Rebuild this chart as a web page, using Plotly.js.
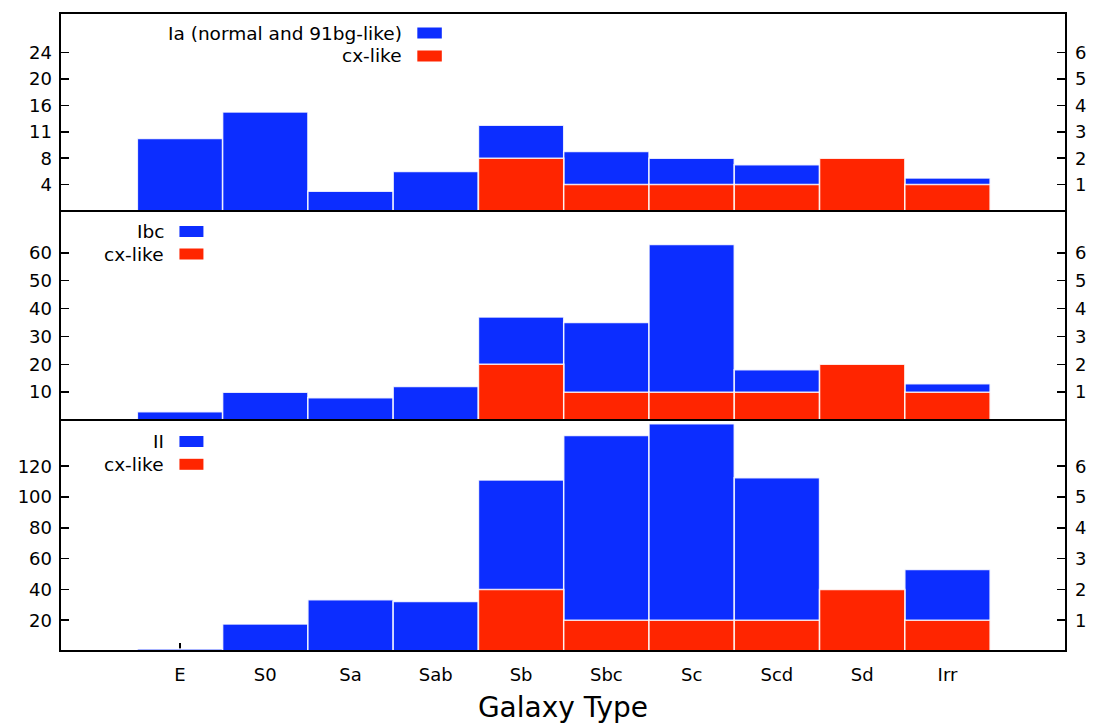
<!DOCTYPE html>
<html>
<head>
<meta charset="utf-8">
<script src="https://cdn.plot.ly/plotly-3.0.1.min.js"></script>
<style>html,body{margin:0;padding:0;background:#fff;}#chart{width:1093px;height:724px;}</style>
</head>
<body>
<div id="chart"></div>
<script>
// ---- data ----
const galaxyTypes = ["E", "S0", "Sa", "Sab", "Sb", "Sbc", "Sc", "Scd", "Sd", "Irr"];
const iaValues   = [11, 15, 3, 6, 13, 9, 8, 7, 0, 5];
const ibcValues  = [3, 10, 8, 12, 37, 35, 63, 18, 0, 13];
const iiValues   = [1.3, 17.6, 33.3, 32.2, 111, 140, 147.5, 112.5, 0, 53];
// cx-like counts (right-hand axes)
const iaCx  = [0, 0, 0, 0, 2, 1, 1, 1, 2, 1];
const ibcCx = [0, 0, 0, 0, 2, 1, 1, 1, 2, 1];
const iiCx  = [0, 0, 0, 0, 2, 1, 1, 1, 2, 1];

const iaTickVals = [4, 8, 12, 16, 20, 24];
const iaTickText = ["4", "8", "11", "16", "20", "24"];
const ibcTickVals = [10, 20, 30, 40, 50, 60];
const iiTickVals = [20, 40, 60, 80, 100, 120];
const cxTickVals = [1, 2, 3, 4, 5, 6];

const legendLabels = [
  ["Ia (normal and 91bg-like)", "cx-like"],
  ["Ibc", "cx-like"],
  ["II", "cx-like"]
];

// ---- style / geometry ----
const BLUE = "#0c2dff", RED = "#ff2500";
const W = 1093, H = 724;
const L = 60, R = 1066.5, T = 13, B = 651;
const pw = R - L, ph = B - T;
const px = v => (v - L) / pw;
const py = v => (B - v) / ph;
const panelPx = [[13, 211], [211, 420], [420, 651]];
const doms = panelPx.map(p => [py(p[1]), py(p[0])]);
const FONT = "DejaVu Sans, Liberation Sans, Arial, sans-serif";

function barTrace(y, color, xa, ya) {
  return {
    type: "bar", x: galaxyTypes, y: y, xaxis: xa, yaxis: ya,
    width: 1, marker: {color: color, line: {color: "rgba(255,255,255,0.85)", width: 1.5}},
    hoverinfo: "x+y", showlegend: false
  };
}

const data = [
  barTrace(iaValues, BLUE, "x", "y"),
  barTrace(ibcValues, BLUE, "x", "y2"),
  barTrace(iiValues, BLUE, "x", "y3"),
  barTrace(iaCx, RED, "x", "y4"),
  barTrace(ibcCx, RED, "x", "y5"),
  barTrace(iiCx, RED, "x", "y6")
];

const tickFont = {family: FONT, size: 18, color: "#000"};
function leftAxis(dom, range, vals, text) {
  const a = {domain: dom, range: range, tickmode: "array", tickvals: vals,
    ticks: "inside", ticklen: 9, tickwidth: 1.5, tickcolor: "#000", ticklabelstandoff: 7,
    showgrid: false, zeroline: false, showline: false, tickfont: tickFont,
    fixedrange: true, anchor: "x"};
  if (text) a.ticktext = text;
  return a;
}
function rightAxis(over) {
  return {overlaying: over, side: "right", range: [0, 7.5], tickmode: "array", tickvals: cxTickVals,
    ticks: "inside", ticklen: 9, tickwidth: 1.5, tickcolor: "#000", ticklabelstandoff: 8,
    showgrid: false, zeroline: false, showline: false, tickfont: tickFont,
    fixedrange: true, anchor: "x"};
}

const shapes = [];
const annotations = [];
panelPx.forEach((p, i) => {
  shapes.push({type: "rect", xref: "paper", yref: "paper", x0: 0, x1: 1, y0: py(p[1]), y1: py(p[0]),
    line: {color: "#000", width: 2}, fillcolor: "rgba(0,0,0,0)", layer: "above"});
});
// manual gnuplot-style legends (text right-aligned, swatch on the right)
const legendPos = [
  {textRight: 404, sw0: 417.5, sw1: 442, ys: [33, 56]},
  {textRight: 166, sw0: 179.5, sw1: 203.5, ys: [231.5, 254]},
  {textRight: 166, sw0: 179.5, sw1: 203.5, ys: [441.5, 464.3]}
];
legendPos.forEach((lp, i) => {
  [BLUE, RED].forEach((c, j) => {
    annotations.push({xref: "paper", yref: "paper", x: px(lp.textRight), y: py(lp.ys[j]),
      xanchor: "right", yanchor: "middle", showarrow: false, text: legendLabels[i][j],
      font: {family: FONT, size: 18.5, color: "#000"}});
    shapes.push({type: "rect", xref: "paper", yref: "paper", x0: px(lp.sw0), x1: px(lp.sw1),
      y0: py(lp.ys[j] + 5.5), y1: py(lp.ys[j] - 5.5), line: {width: 0}, fillcolor: c, layer: "above"});
  });
});

const layout = {
  width: W, height: H,
  margin: {l: L, r: W - R, t: T, b: H - B, pad: 0},
  paper_bgcolor: "#fff", plot_bgcolor: "rgba(0,0,0,0)",
  barmode: "overlay", bargap: 0, showlegend: false,
  font: {family: FONT, color: "#000"},
  xaxis: {type: "category", range: [-1.407, 10.39], anchor: "y3",
    ticks: "inside", ticklen: 8, tickwidth: 1.5, tickcolor: "#000", ticklabelstandoff: 11,
    showgrid: false, zeroline: false, showline: false, layer: "below traces",
    tickfont: tickFont, fixedrange: true,
    title: {text: "Galaxy Type", font: {family: FONT, size: 28, color: "#000"}, standoff: 13}},
  yaxis: leftAxis(doms[0], [0, 30], iaTickVals, iaTickText),
  yaxis2: leftAxis(doms[1], [0, 75], ibcTickVals),
  yaxis3: leftAxis(doms[2], [0, 150], iiTickVals),
  yaxis4: rightAxis("y"),
  yaxis5: rightAxis("y2"),
  yaxis6: rightAxis("y3"),
  shapes: shapes,
  annotations: annotations
};

Plotly.newPlot("chart", data, layout, {displayModeBar: false, staticPlot: true});
</script>
</body>
</html>
